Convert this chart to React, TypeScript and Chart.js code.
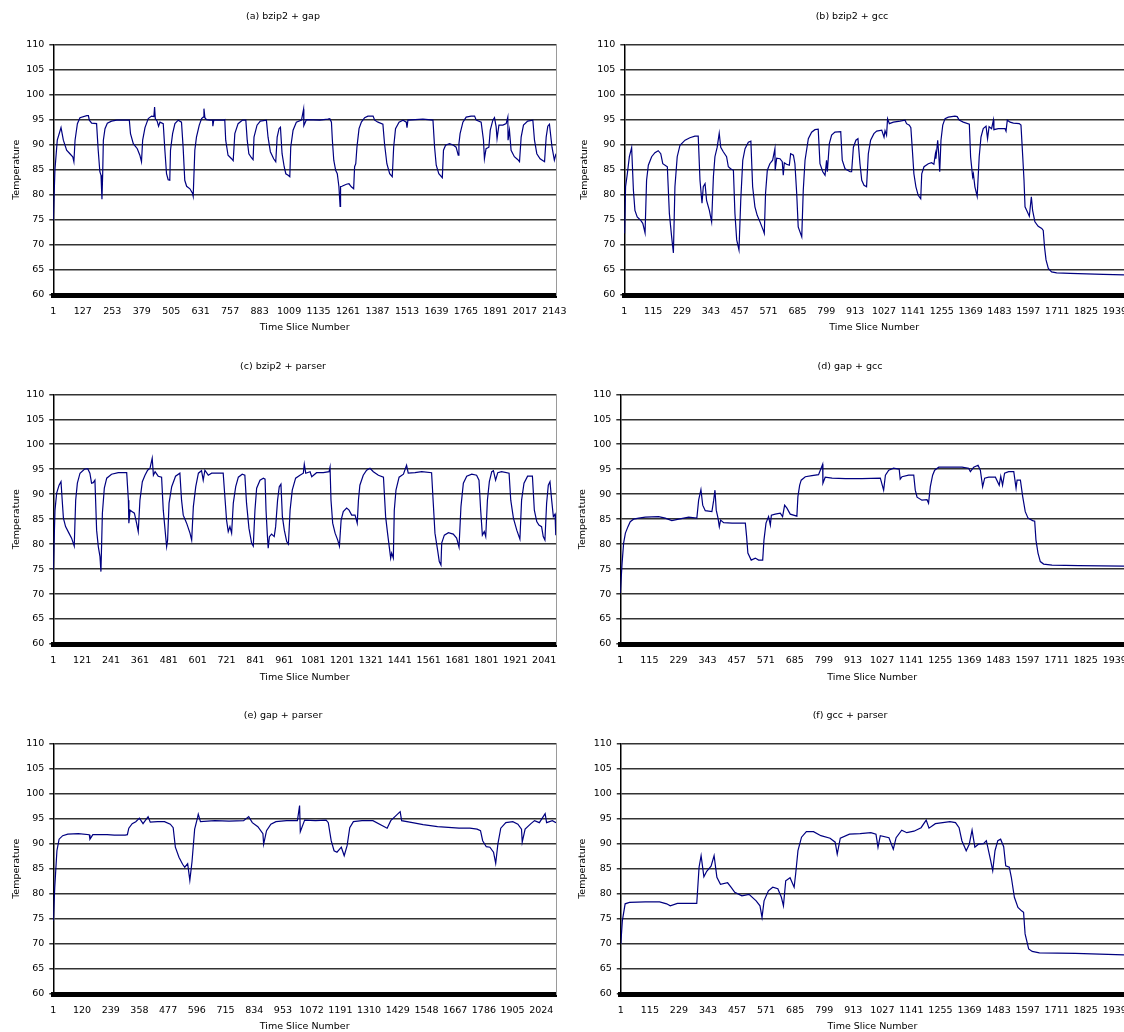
import React, { useEffect, useRef } from 'react';
import { Chart, registerables } from 'chart.js';

Chart.register(...registerables);

const FONT = '"DejaVu Sans", sans-serif';

// ---- tick labels ----
const ticksA = [1, 127, 253, 379, 505, 631, 757, 883, 1009, 1135, 1261, 1387, 1513, 1639, 1765, 1891, 2017, 2143];
const ticksGcc = [1, 115, 229, 343, 457, 571, 685, 799, 913, 1027, 1141, 1255, 1369, 1483, 1597, 1711, 1825, 1939];
const ticksC = [1, 121, 241, 361, 481, 601, 721, 841, 961, 1081, 1201, 1321, 1441, 1561, 1681, 1801, 1921, 2041];
const ticksE = [1, 120, 239, 358, 477, 596, 715, 834, 953, 1072, 1191, 1310, 1429, 1548, 1667, 1786, 1905, 2024];

// ---- series: [time slice, temperature] ----
const seriesA = [[1,74.9],[8,85],[18,90.9],[34,93.4],[44,90.9],[58,88.9],[72,88.2],[84,87.6],[89,86.6],[94,90.9],[104,94.2],[115,95.4],[144,95.8],[151,95.8],[155,94.9],[165,94.3],[186,94.2],[193,88.9],[200,84.6],[205,83.9],[209,79.1],[212,84],[215,90.9],[222,93.2],[232,94.3],[250,94.7],[272,94.9],[326,94.9],[331,92.2],[343,90.2],[360,89.2],[371,87.9],[378,86.6],[383,90.9],[393,93.4],[407,95.2],[421,95.7],[431,95.6],[434,97.5],[437,95.2],[445,94.7],[451,93.7],[457,94.5],[471,94.2],[478,88.9],[485,84.2],[492,83],[499,82.9],[502,88.9],[511,92.2],[521,94.2],[535,94.9],[549,94.5],[556,89.5],[563,82.9],[571,81.7],[585,81.2],[596,80.3],[599,79.7],[606,88.9],[613,91.5],[625,93.9],[635,95.2],[642,95.5],[645,97.2],[649,95.4],[656,95],[670,94.9],[682,94.9],[683,93.7],[687,94.9],[730,94.9],[734,95],[738,90.9],[748,87.9],[763,87.2],[770,86.8],[777,92.2],[791,94.2],[810,94.9],[824,94.9],[830,90.9],[837,88.2],[848,87.4],[855,87],[859,91.5],[872,93.9],[886,94.7],[912,94.9],[919,91.5],[929,88.6],[943,87.2],[952,86.6],[958,91.5],[966,93.2],[972,93.5],[979,88.2],[988,85.6],[995,84.2],[1005,83.9],[1012,83.6],[1016,89.5],[1026,92.9],[1040,94.5],[1062,94.9],[1071,97.1],[1072,93.8],[1083,95],[1140,94.9],[1175,95.1],[1183,95.2],[1190,94.5],[1194,90.9],[1200,86.9],[1208,84.9],[1215,84.2],[1222,81.6],[1227,77.7],[1229,81.6],[1235,81.7],[1254,82.1],[1265,82.2],[1275,81.6],[1285,81.2],[1289,85.6],[1294,86.2],[1299,89.5],[1308,93.2],[1318,94.5],[1332,95.4],[1346,95.7],[1368,95.7],[1375,94.9],[1389,94.5],[1410,94.1],[1417,90.2],[1427,86.2],[1439,84.2],[1450,83.6],[1456,89.5],[1464,93.2],[1479,94.5],[1496,94.9],[1510,94.5],[1513,93.4],[1517,94.9],[1581,95.1],[1624,94.9],[1631,89.5],[1638,85.9],[1649,84.2],[1664,83.4],[1669,88.9],[1678,89.9],[1695,90.2],[1712,89.9],[1723,89.5],[1732,87.9],[1735,90.2],[1740,92.2],[1752,94.5],[1766,95.5],[1787,95.7],[1802,95.7],[1809,94.9],[1830,94.5],[1840,90.9],[1844,87.2],[1851,89.2],[1863,89.5],[1869,92.9],[1880,94.9],[1887,95.4],[1894,93.6],[1898,91.2],[1906,93.9],[1923,93.9],[1937,94.2],[1944,95.5],[1945,90.9],[1951,92.9],[1958,88.9],[1972,87.6],[1987,87],[1994,86.6],[2001,91.5],[2011,93.9],[2029,94.7],[2051,94.9],[2058,90.9],[2068,88.2],[2082,87.2],[2101,86.6],[2108,91.5],[2115,93.7],[2122,94.1],[2133,89.5],[2143,86.9],[2150,88.2]];

const seriesB = [[2,72.3],[6,81.6],[13,84.2],[21,87.6],[30,89.4],[37,80.9],[43,76.9],[52,75.6],[66,74.9],[74,74.3],[83,72.4],[89,82.9],[96,85.9],[109,87.6],[122,88.4],[135,88.8],[145,88.2],[153,86.2],[162,85.9],[171,85.6],[179,76.3],[188,71.6],[195,68.4],[201,81.6],[210,87.6],[221,89.9],[241,90.9],[260,91.4],[280,91.7],[293,91.7],[300,82.9],[308,78.3],[313,81.6],[320,82.2],[326,78.9],[337,76.9],[346,74.6],[353,83.6],[359,87.6],[368,89.5],[376,92.3],[382,89.5],[392,88.6],[405,87.6],[412,85.6],[421,85.2],[432,84.9],[438,76.3],[445,71],[454,69],[461,78.9],[469,86.9],[478,89.2],[491,90.5],[501,90.7],[508,81.6],[517,77.6],[526,75.9],[537,74.6],[550,72.9],[554,72.3],[559,80.3],[566,84.9],[576,86.2],[587,86.9],[596,89.2],[597,84.9],[603,87.3],[616,87.2],[625,86.6],[629,83.9],[633,86.4],[642,86.1],[653,85.9],[658,88.2],[669,87.9],[675,86.2],[682,80.3],[688,73.6],[702,71.6],[708,80.9],[715,86.9],[728,91.2],[741,92.5],[754,93],[767,93.1],[774,86.2],[785,84.6],[794,83.9],[800,86.9],[803,84.6],[811,90.2],[820,91.9],[833,92.5],[856,92.6],[862,86.9],[873,85.2],[893,84.6],[899,84.6],[906,89.5],[916,90.9],[924,91.2],[932,86.2],[939,82.9],[948,81.9],[958,81.6],[965,88.2],[974,90.9],[987,92.2],[998,92.7],[1018,92.9],[1027,91.5],[1031,92.8],[1037,91.9],[1041,95.2],[1048,94.2],[1064,94.5],[1090,94.7],[1110,94.9],[1116,94.2],[1127,93.9],[1133,93.4],[1139,88.9],[1145,84.2],[1153,81.6],[1162,79.9],[1172,79.2],[1176,84.2],[1185,85.6],[1202,86.2],[1215,86.4],[1224,86.1],[1230,88.2],[1232,87.2],[1239,90.9],[1243,88.2],[1247,84.6],[1252,90.9],[1259,93.9],[1268,95.2],[1281,95.5],[1307,95.7],[1316,95.6],[1324,94.9],[1340,94.5],[1364,94.1],[1369,87.6],[1377,83.6],[1380,84.2],[1386,81.6],[1395,79.7],[1403,87.6],[1410,91.5],[1419,93.2],[1430,93.7],[1436,91.2],[1442,93.6],[1452,93.2],[1459,94.9],[1461,93],[1478,93.2],[1505,93.2],[1509,92.7],[1514,94.9],[1525,94.5],[1538,94.3],[1561,94.2],[1568,93.9],[1575,87.6],[1580,82.9],[1584,77.6],[1593,76.6],[1601,75.7],[1609,79.6],[1614,76.9],[1623,74.6],[1636,73.7],[1650,73.3],[1656,72.9],[1661,69.6],[1667,67],[1676,65.3],[1689,64.6],[1709,64.4],[1762,64.3],[1827,64.2],[1893,64.1],[1975,64]];

const seriesC = [[1,74.8],[8,86.8],[15,90.2],[25,91.8],[33,92.5],[38,88.8],[43,85.2],[52,83.5],[66,82.2],[77,81.2],[88,79.6],[94,88.8],[101,92.2],[112,94.2],[130,95],[144,95.1],[153,94.2],[160,92.2],[167,92.3],[174,92.8],[181,82.8],[188,79.5],[195,77.5],[199,74.5],[205,86.2],[213,91.2],[223,93.2],[243,94],[271,94.3],[306,94.3],[313,88.8],[315,84.2],[320,86.8],[329,86.5],[338,86.2],[347,84.2],[354,82.5],[361,88.8],[371,92.5],[382,93.8],[393,94.8],[403,95.2],[412,97.2],[417,93.8],[424,94.5],[437,93.6],[451,93.4],[458,86.8],[468,81.5],[472,79.5],[476,80.8],[482,88.2],[493,91.5],[509,93.6],[527,94.2],[534,88.8],[541,85.8],[555,84.2],[569,82.2],[576,80.8],[583,87.5],[593,91.5],[604,94.2],[617,94.7],[624,92.8],[631,94.8],[645,93.8],[659,94.2],[680,94.2],[707,94.2],[714,89.5],[721,84.8],[728,82.5],[735,83.5],[742,82.2],[749,88.2],[759,91.5],[770,93.4],[786,94],[797,93.8],[804,88.2],[814,83.2],[825,80.2],[832,79.6],[839,86.8],[846,91.2],[860,92.8],[874,93.2],[881,93],[885,86.8],[890,82.2],[894,79.2],[899,81.5],[908,82],[919,81.5],[925,83.5],[933,88.8],[940,91.5],[947,92],[953,85.5],[961,82.8],[971,80.5],[978,80],[985,86.8],[994,90.8],[1008,93.2],[1026,93.8],[1040,94.2],[1044,96],[1050,94.2],[1068,94.5],[1075,93.5],[1095,94.3],[1123,94.3],[1147,94.5],[1151,95.4],[1155,88.8],[1162,84.2],[1172,82.2],[1183,80.8],[1190,79.6],[1197,84.8],[1206,86.5],[1220,87.2],[1230,86.8],[1241,85.8],[1255,85.8],[1264,84.2],[1269,88.8],[1275,91.8],[1289,93.8],[1303,94.8],[1317,95.2],[1331,94.5],[1352,93.8],[1373,93.4],[1382,85.5],[1390,82.2],[1397,79.5],[1403,77.2],[1407,78.2],[1414,77.2],[1418,86.8],[1425,90.8],[1438,93.4],[1456,94],[1469,95.8],[1476,94.2],[1504,94.3],[1532,94.5],[1573,94.3],[1580,88.2],[1587,82.2],[1598,78.8],[1605,76.5],[1612,75.8],[1615,80.2],[1626,81.8],[1643,82.3],[1663,82],[1677,81.2],[1687,79.4],[1695,87.5],[1705,92.2],[1719,93.6],[1740,94],[1760,93.8],[1770,92.8],[1777,86.8],[1784,81.8],[1792,82.5],[1798,81.5],[1805,88.8],[1813,92.5],[1823,94.5],[1830,94.7],[1839,92.8],[1848,94.3],[1864,94.5],[1895,94.2],[1902,88.8],[1913,85.2],[1927,82.8],[1940,81],[1947,88.8],[1957,92.2],[1972,93.6],[1992,93.6],[2000,86.8],[2010,84.5],[2019,83.8],[2030,83.5],[2037,81.5],[2044,80.8],[2051,88.2],[2058,91.8],[2065,92.5],[2072,88.8],[2079,85.5],[2086,86],[2089,81.8]];

const seriesD = [[1,70.2],[8,76.2],[14,80.2],[21,82.2],[31,83.5],[40,84.5],[53,85],[73,85.2],[99,85.4],[151,85.5],[177,85.2],[203,84.7],[230,85],[269,85.4],[301,85.2],[308,88.8],[317,90.9],[324,87.8],[334,86.7],[360,86.5],[367,88.8],[372,90.8],[377,86.8],[384,85.2],[389,83.5],[394,84.8],[406,84.3],[439,84.2],[491,84.2],[496,81.5],[501,78.2],[514,76.8],[530,77.2],[543,76.8],[559,76.8],[564,80.8],[572,84.2],[582,85.5],[589,83.8],[593,85.8],[608,86],[628,86.2],[637,85.5],[645,87.8],[654,87.2],[667,86],[693,85.6],[697,89.5],[704,91.8],[710,92.8],[726,93.5],[752,93.7],[778,93.9],[794,96],[795,92.2],[804,93.4],[831,93.2],[883,93.1],[948,93.1],[1020,93.2],[1033,90.8],[1040,93.8],[1053,94.8],[1072,95.2],[1094,95],[1098,93],[1105,93.5],[1131,93.8],[1151,93.8],[1157,90.8],[1164,89.4],[1183,88.8],[1203,88.9],[1209,88.2],[1216,91.5],[1225,93.8],[1233,94.8],[1249,95.4],[1340,95.4],[1366,95.2],[1373,94.5],[1386,95.4],[1403,95.8],[1412,94.8],[1421,91.5],[1429,93.2],[1445,93.4],[1471,93.4],[1486,91.8],[1492,93.6],[1499,91.8],[1507,94.2],[1523,94.5],[1543,94.5],[1552,91.2],[1556,92.8],[1569,92.8],[1578,89.5],[1588,86.5],[1599,85.2],[1617,84.7],[1625,84.6],[1630,80.8],[1638,78.2],[1647,76.5],[1660,76],[1693,75.8],[1797,75.7],[1975,75.6]];

const seriesE = [[1,74.6],[7,81.3],[16,88.6],[25,90.9],[40,91.6],[61,91.9],[105,92],[150,91.8],[153,90.9],[165,91.8],[224,91.8],[254,91.7],[299,91.7],[308,91.8],[314,93.1],[328,94],[343,94.4],[358,95.1],[373,94],[394,95.4],[403,94.3],[433,94.4],[462,94.4],[486,93.9],[498,93.2],[507,89.3],[522,87.3],[537,85.9],[546,85.3],[558,86],[567,82.7],[576,86.4],[587,92.9],[599,95.2],[602,95.9],[611,94.4],[671,94.6],[730,94.5],[790,94.6],[811,95.4],[826,94.2],[849,93.4],[870,92],[873,89.9],[885,92.6],[903,93.9],[924,94.4],[968,94.6],[1013,94.6],[1022,97.6],[1025,92.4],[1043,94.7],[1088,94.6],[1132,94.7],[1141,94.2],[1153,90.6],[1165,88.6],[1177,88.3],[1195,89.3],[1207,87.6],[1219,89.6],[1230,93.2],[1245,94.4],[1281,94.6],[1326,94.6],[1385,93.1],[1400,94.6],[1439,96.4],[1445,94.6],[1490,94.2],[1534,93.8],[1594,93.4],[1683,93.1],[1728,93.1],[1758,92.9],[1772,92.6],[1781,90.6],[1796,89.4],[1811,89.3],[1826,88.3],[1835,86.1],[1844,89.9],[1856,93.1],[1877,94.2],[1906,94.4],[1927,93.9],[1942,92.9],[1945,90.3],[1957,92.9],[1981,94],[1996,94.6],[2016,94.2],[2040,96],[2046,94.2],[2070,94.6],[2085,94.2]];

const seriesF = [[1,70],[7,74.6],[18,78],[35,78.3],[97,78.4],[153,78.4],[181,78],[195,77.6],[223,78.1],[265,78.1],[299,78.1],[308,85.3],[316,87.6],[327,83.4],[338,84.5],[355,85.5],[367,87.6],[378,83.3],[392,81.9],[420,82.2],[434,81.3],[448,80.3],[476,79.6],[504,79.9],[532,78.6],[547,77.6],[555,75.3],[563,78.6],[580,80.6],[597,81.3],[617,81],[631,79.3],[639,77.6],[648,82.6],[665,83.2],[681,81.3],[687,84],[696,88.6],[710,91.3],[729,92.4],[757,92.4],[786,91.6],[822,91.1],[842,90.3],[850,87.9],[862,91.1],[898,91.9],[940,92],[982,92.2],[1002,91.9],[1010,89.3],[1019,91.6],[1053,91.2],[1070,88.9],[1081,91.2],[1103,92.7],[1123,92.2],[1151,92.5],[1179,93.2],[1199,94.7],[1210,93.1],[1235,94],[1264,94.2],[1292,94.4],[1314,94.2],[1328,93.2],[1339,90.6],[1356,88.6],[1368,89.9],[1379,92.7],[1390,89.3],[1404,89.9],[1424,90],[1435,90.6],[1452,86.6],[1460,84.6],[1469,88.6],[1480,90.6],[1491,90.9],[1503,89.4],[1511,85.6],[1525,85.3],[1533,83.3],[1545,79.3],[1559,77.3],[1573,76.6],[1581,76.3],[1587,72],[1601,69],[1615,68.5],[1643,68.2],[1784,68.1],[1975,67.8]];

// ---- panel layout (page pixel geometry) ----
const PANELS = [
  { title: '(a) bzip2 + gap', data: seriesA, ticks: ticksA, n: 2150, left: 0, top: 0, w: 600, h: 350, plotLeft: 53.3, plotRight: 556, plotTop: 44.5, plotBottom: 295, titleY: 16, titleX: 283, xTitleY: 328, yTitleX: 17, frame: true },
  { title: '(b) bzip2 + gcc', data: seriesB, ticks: ticksGcc, n: 1975, left: 562, top: 0, w: 562, h: 350, plotLeft: 624.3, plotRight: 1124, plotTop: 44.5, plotBottom: 295, titleY: 16, titleX: 852, xTitleY: 328, yTitleX: 585, frame: false },
  { title: '(c) bzip2 + parser', data: seriesC, ticks: ticksC, n: 2090, left: 0, top: 350, w: 600, h: 350, plotLeft: 53.3, plotRight: 556, plotTop: 394.3, plotBottom: 644, titleY: 366, titleX: 283, xTitleY: 678, yTitleX: 17, frame: true },
  { title: '(d) gap + gcc', data: seriesD, ticks: ticksGcc, n: 1975, left: 562, top: 350, w: 562, h: 350, plotLeft: 620.3, plotRight: 1124, plotTop: 394.3, plotBottom: 644, titleY: 366, titleX: 850, xTitleY: 678, yTitleX: 583, frame: false },
  { title: '(e) gap + parser', data: seriesE, ticks: ticksE, n: 2085, left: 0, top: 700, w: 600, h: 340, plotLeft: 53.3, plotRight: 556, plotTop: 743.5, plotBottom: 994, titleY: 715, titleX: 283, xTitleY: 1027, yTitleX: 17, frame: true },
  { title: '(f) gcc + parser', data: seriesF, ticks: ticksGcc, n: 1975, left: 562, top: 700, w: 562, h: 340, plotLeft: 620.8, plotRight: 1124, plotTop: 743.5, plotBottom: 994, titleY: 715, titleX: 850, xTitleY: 1027, yTitleX: 583, frame: false },
];

const FS = 9.5;
const LH = FS * 1.2;

function PanelChart({ p }: { p: any }) {
  const ref = useRef<HTMLCanvasElement | null>(null);
  useEffect(() => {
    const yW = p.plotLeft - p.left;
    const padR = p.left + p.w - p.plotRight;
    const padT = p.plotTop - p.top;
    const xH = p.top + p.h - p.plotBottom;
    const xTitlePad = p.top + p.h - p.xTitleY - LH / 2;
    const yTitlePad = p.yTitleX - p.left - LH / 2;
    const font = { family: FONT, size: FS, weight: 'normal' };
    const scales: any = {
      x: {
        type: 'linear',
        min: 1,
        max: p.n,
        grid: { display: false, drawTicks: false, tickLength: 0 },
        border: { display: true, color: '#000', width: 5 },
        ticks: { autoSkip: false, maxRotation: 0, minRotation: 0, padding: 11, font, color: '#000', callback: (v: any) => String(v) },
        afterBuildTicks: (s: any) => { s.ticks = p.ticks.map((v: number) => ({ value: v })); },
        afterFit: (s: any) => { s.height = xH; s.paddingLeft = 0; s.paddingRight = 0; },
        title: { display: true, text: 'Time Slice Number', font, color: '#000', padding: { top: 0, bottom: xTitlePad } },
      },
      y: {
        min: 60,
        max: 110,
        ticks: { stepSize: 5, padding: 5, font, color: '#000' },
        grid: { color: '#333', lineWidth: 1.5, tickLength: 4 },
        border: { color: '#000', width: 1.5 },
        title: { display: true, text: 'Temperature', font, color: '#000', padding: { top: yTitlePad, bottom: 0 } },
        afterFit: (s: any) => { s.width = yW; s.paddingTop = 0; s.paddingBottom = 0; },
      },
    };
    if (p.frame) {
      scales.y2 = {
        position: 'right',
        display: true,
        grid: { display: false, drawTicks: false },
        ticks: { display: false },
        border: { display: true, color: '#9a9a9a', width: 1 },
        afterFit: (s: any) => { s.width = 0; s.paddingTop = 0; s.paddingBottom = 0; },
      };
    }
    const chart = new Chart(ref.current as HTMLCanvasElement, {
      type: 'line',
      data: {
        datasets: [{
          data: p.data.map((d: number[]) => ({ x: d[0], y: d[1] })),
          borderColor: '#000080',
          borderWidth: 1.2,
          pointRadius: 0,
          tension: 0,
          fill: false,
        }],
      },
      options: {
        animation: false,
        responsive: false,
        maintainAspectRatio: false,
        layout: { padding: { left: 0, right: padR, top: padT, bottom: 0 } },
        plugins: {
          legend: { display: false },
          tooltip: { enabled: false },
          title: { display: false },
        },
        scales,
      },
    } as any);
    return () => chart.destroy();
  }, []);
  return (
    <>
      <canvas
        ref={ref}
        width={p.w}
        height={p.h}
        style={{ position: 'absolute', left: p.left, top: p.top, width: p.w, height: p.h }}
      />
      <div
        style={{
          position: 'absolute',
          left: p.titleX - 100,
          top: p.titleY - 7,
          width: 200,
          textAlign: 'center',
          font: `${FS}px ${FONT}`,
          lineHeight: '14px',
          color: '#000',
          whiteSpace: 'nowrap',
        }}
      >
        {p.title}
      </div>
    </>
  );
}

export default function App() {
  return (
    <div style={{ position: 'absolute', left: 0, top: 0, width: 1124, height: 1032, overflow: 'hidden', background: '#fff' }}>
      {PANELS.map((p) => (
        <PanelChart key={p.title} p={p} />
      ))}
    </div>
  );
}
